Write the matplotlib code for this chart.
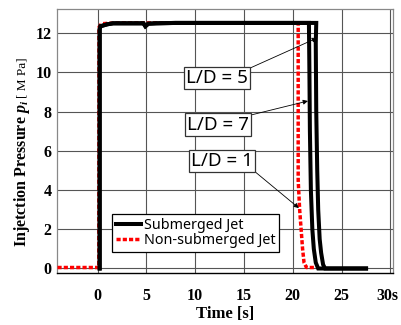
import matplotlib
matplotlib.use('Agg')
import matplotlib.pyplot as plt
import matplotlib.transforms as mtransforms
from matplotlib.lines import Line2D

# ---------------- data ----------------
plateau_x = [0.22, 0.22, 0.3, 1.0, 1.6, 3.0, 4.7, 4.9, 5.2, 6.0, 8.0, 12.0, 16.0, 20.0]
plateau_y = [0.0, 12.2, 12.35, 12.45, 12.5, 12.5, 12.5, 12.35, 12.48, 12.5, 12.52, 12.52, 12.52, 12.52]

ld5_drop_x = [22.4, 22.35, 22.4, 22.5, 22.6, 22.75, 22.9, 23.1, 23.3, 27.5]
ld5_drop_y = [12.52, 11.5, 8.0, 5.0, 3.0, 1.5, 0.8, 0.2, 0.0, 0.0]

ld7_drop_x = [21.65, 21.7, 21.75, 21.85, 22.0, 22.15, 22.35, 22.6, 27.5]
ld7_drop_y = [12.52, 10.0, 7.0, 4.0, 2.0, 1.0, 0.3, 0.0, 0.0]

ld1_x = [-4.1, 0.13, 0.15, 0.4, 2.0, 10.0, 20.55, 20.55, 20.7, 20.85, 21.0, 21.15, 21.4, 22.4]
ld1_y = [0.05, 0.05, 12.3, 12.48, 12.52, 12.52, 12.52, 4.5, 3.0, 2.0, 1.0, 0.3, 0.05, 0.05]

x_ticks = [0, 5, 10, 15, 20, 25, 30]
x_tick_labels = ['0', '5', '10', '15', '20', '25', '30s']
y_ticks = [0, 2, 4, 6, 8, 10, 12]

labels = ['L/D = 5', 'L/D = 7', 'L/D = 1']
label_pos = [(12.23, 9.71), (12.33, 7.34), (12.74, 5.48)]
arrow_tip = [(22.47, 11.75), (21.55, 8.54), (20.62, 3.08)]
arrow_rel = [(1, 1), (1, 1), (1, 0)]

legend_labels = ['Submerged Jet', 'Non-submerged Jet']

# ---------------- plot ----------------
plt.rcParams['mathtext.fontset'] = 'custom'
plt.rcParams['mathtext.it'] = 'Liberation Serif:italic:bold'
plt.rcParams['mathtext.rm'] = 'Liberation Serif:bold'

fig = plt.figure(figsize=(4.02, 3.25), dpi=100)
ax = fig.add_axes([57/402, 52/325, 336/402, 264/325])

ax.set_xlim(-4.15, 30.26)
ax.set_ylim(-0.23, 13.23)

ax.grid(True, color='#555555', linewidth=0.8)
ax.set_axisbelow(True)

# red (non-submerged, L/D=1) under the black lines
ax.plot(ld1_x, ld1_y, color='#ff0000', linewidth=2.5, linestyle=(0, (1.2, 0.6)),
        zorder=3)
ax.plot(plateau_x + ld5_drop_x, plateau_y + ld5_drop_y, color='black',
        linewidth=2.9, solid_joinstyle='miter', zorder=4)
ax.plot(plateau_x + ld7_drop_x, plateau_y + ld7_drop_y, color='black',
        linewidth=2.9, solid_joinstyle='miter', zorder=4)

ax.set_xticks(x_ticks)
ax.set_xticklabels(x_tick_labels)
ax.set_yticks(y_ticks)
ax.tick_params(length=0)
ax.tick_params(axis='x', pad=11)
ax.tick_params(axis='y', pad=4)
for lab in ax.get_xticklabels() + ax.get_yticklabels():
    lab.set_fontfamily('Liberation Serif')
    lab.set_fontweight('bold')
    lab.set_fontsize(11.5)
last = ax.get_xticklabels()[-1]
last.set_transform(last.get_transform() +
                   mtransforms.ScaledTranslation(-3/100, 0, fig.dpi_scale_trans))

for s in ['left', 'top', 'right']:
    ax.spines[s].set_color('#888888')
    ax.spines[s].set_linewidth(0.9)
ax.spines['bottom'].set_color('black')
ax.spines['bottom'].set_linewidth(1.0)

# annotations
for lab, pos, tip, rel in zip(labels, label_pos, arrow_tip, arrow_rel):
    ax.annotate(lab, xy=tip, xytext=pos, ha='center', va='center',
                fontsize=13.5, family=['Noto Sans', 'DejaVu Sans'],
                bbox=dict(boxstyle='square,pad=0.12', fc='white', ec='#333333', lw=0.9),
                arrowprops=dict(arrowstyle='-|>', color='black', lw=0.6,
                                mutation_scale=7, relpos=rel, shrinkA=0, shrinkB=0),
                zorder=6)

# legend
handles = [Line2D([], [], color='black', linewidth=2.9),
           Line2D([], [], color='#ff0000', linewidth=2.5, linestyle=(0, (1.2, 0.6)))]
leg = ax.legend(handles, legend_labels, loc='lower left', bbox_to_anchor=(0.164, 0.08),
                frameon=True, fancybox=False, framealpha=1, edgecolor='black',
                prop={'family': ['Noto Sans', 'DejaVu Sans'], 'size': 10.3},
                handlelength=1.8, handletextpad=0.15, borderpad=0.25,
                labelspacing=0.05, borderaxespad=0)
leg.get_frame().set_linewidth(0.9)
leg.set_zorder(7)

# x label
fig.text(225/402, 1 - 314/325, 'Time [s]', ha='center', va='center',
         family='Liberation Serif', fontweight='bold', fontsize=12)

# y label (composite)
t1 = fig.text(22/402, 1 - 247/325, r'Injetction Pressure $p_i$', rotation=90,
              ha='center', va='bottom', family='Liberation Serif',
              fontweight='bold', fontsize=11.5)
fig.canvas.draw()
bb = t1.get_window_extent(renderer=fig.canvas.get_renderer())
top_px = bb.y1
fig.text(23/402, (top_px + 2) / 325, '[ M Pa]', rotation=90, ha='center', va='bottom',
         family='Liberation Serif', fontsize=9.5)

fig.savefig('out.png', dpi=100)
